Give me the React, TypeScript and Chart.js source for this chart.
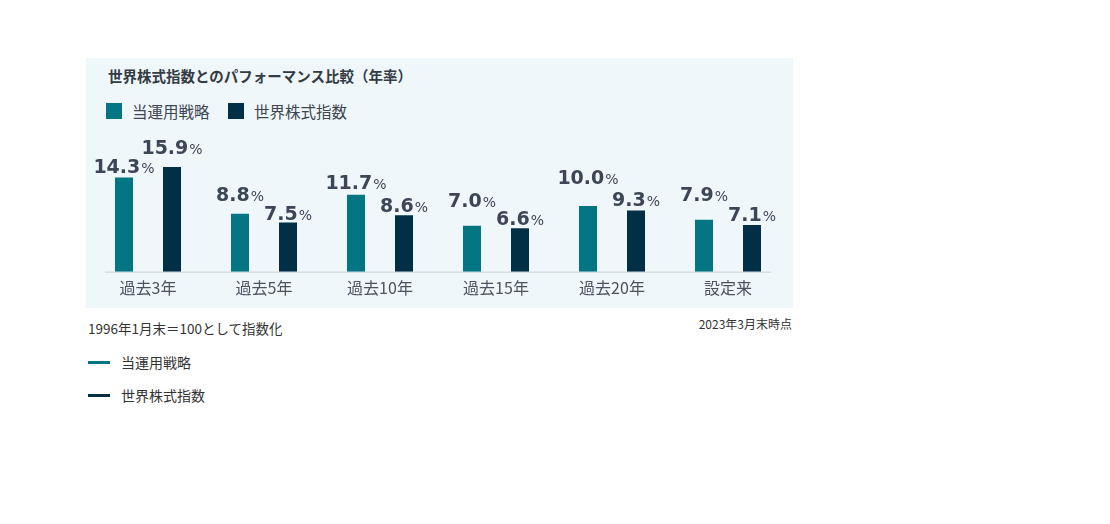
import React, { useEffect, useRef } from "react";
import { Chart, registerables } from "chart.js";

Chart.register(...registerables);

const categories = ["過去3年", "過去5年", "過去10年", "過去15年", "過去20年", "設定来"];
const strategyValues = [14.3, 8.8, 11.7, 7.0, 10.0, 7.9];
const indexValues = [15.9, 7.5, 8.6, 6.6, 9.3, 7.1];
const seriesNames = ["当運用戦略", "世界株式指数"];
const seriesColors = ["#037583", "#012f46"];

// per-label lift above the bar top (px), as placed in the original
const labelLift = [
  [5, 13, 6, 19, 22, 19],
  [13, 2, 3, 3, 5, 4],
];

const FONT = "'Noto Sans CJK JP', 'Noto Sans', sans-serif";
const NUMFONT = "'DejaVu Sans', sans-serif";

const labelPlugin = {
  id: "valueLabels",
  beforeDatasetsDraw(chart: any) {
    const { ctx, chartArea, scales } = chart;
    const y = scales.y.getPixelForValue(0);
    ctx.save();
    ctx.strokeStyle = "#d6dde3";
    ctx.lineWidth = 1.5;
    ctx.beginPath();
    ctx.moveTo(chartArea.left + 15, y + 0.5);
    ctx.lineTo(chartArea.right - 15, y + 0.5);
    ctx.stroke();
    ctx.restore();
  },
  afterDatasetsDraw(chart: any) {
    const { ctx } = chart;
    ctx.save();
    ctx.fillStyle = "#3b4656";
    ctx.textBaseline = "alphabetic";
    ctx.textAlign = "left";
    chart.data.datasets.forEach((ds: any, di: number) => {
      const meta = chart.getDatasetMeta(di);
      meta.data.forEach((bar: any, i: number) => {
        const num = (ds.data[i] as number).toFixed(1);
        ctx.font = `bold 19px ${NUMFONT}`;
        const w1 = ctx.measureText(num).width;
        ctx.font = `14px ${NUMFONT}`;
        const w2 = ctx.measureText("%").width;
        const x0 = bar.x - (w1 + 1 + w2) / 2;
        const yb = bar.y - labelLift[di][i];
        ctx.font = `bold 19px ${NUMFONT}`;
        ctx.fillText(num, x0, yb);
        ctx.font = `14px ${NUMFONT}`;
        ctx.fillText("%", x0 + w1 + 1, yb);
      });
    });
    ctx.restore();
  },
};

export default function App() {
  const ref = useRef<HTMLCanvasElement>(null);
  useEffect(() => {
    if (!ref.current) return;
    const chart = new Chart(ref.current, {
      type: "bar",
      data: {
        labels: categories,
        datasets: [
          {
            label: seriesNames[0],
            data: strategyValues,
            backgroundColor: seriesColors[0],
            categoryPercentage: 0.828,
            barPercentage: 0.375,
          },
          {
            label: seriesNames[1],
            data: indexValues,
            backgroundColor: seriesColors[1],
            categoryPercentage: 0.828,
            barPercentage: 0.375,
          },
        ],
      },
      options: {
        animation: false,
        responsive: false,
        devicePixelRatio: 1,
        layout: { padding: { top: 10, left: 0, right: 0, bottom: 0 } },
        plugins: { legend: { display: false }, tooltip: { enabled: false } },
        scales: {
          x: {
            grid: { display: false, drawTicks: false },
            border: { display: false },
            ticks: { font: { family: FONT, size: 16 }, color: "#4a5360", padding: 7 },
          },
          y: { display: false, min: 0, max: 20 },
        },
      },
      plugins: [labelPlugin],
    });
    return () => chart.destroy();
  }, []);

  const txt: React.CSSProperties = { position: "absolute", fontFamily: FONT, whiteSpace: "nowrap" };

  return (
    <div style={{ position: "absolute", left: 0, top: 0, width: 1110, height: 524, background: "#fff", fontFamily: FONT }}>
      <div style={{ position: "absolute", left: 86, top: 58, width: 707, height: 250, background: "#f0f7fb" }} />
      <div style={{ ...txt, left: 108, top: 66, fontSize: 14.5, fontWeight: 700, color: "#333b44", lineHeight: "20px" }}>
        世界株式指数とのパフォーマンス比較（年率）
      </div>
      <div style={{ position: "absolute", left: 106, top: 103, width: 16, height: 16, background: seriesColors[0] }} />
      <div style={{ ...txt, left: 132, top: 101, fontSize: 15.5, color: "#3c4650", lineHeight: "20px" }}>{seriesNames[0]}</div>
      <div style={{ position: "absolute", left: 228, top: 103, width: 16, height: 16, background: seriesColors[1] }} />
      <div style={{ ...txt, left: 254, top: 101, fontSize: 15.5, color: "#3c4650", lineHeight: "20px" }}>{seriesNames[1]}</div>
      <canvas ref={ref} width={696} height={175} style={{ position: "absolute", left: 90, top: 130, width: 696, height: 175 }} />
      <div style={{ ...txt, left: 88, top: 319, fontSize: 13.5, color: "#333", lineHeight: "18px" }}>1996年1月末＝100として指数化</div>
      <div style={{ ...txt, right: 1110 - 792, top: 316, fontSize: 12, color: "#333", lineHeight: "16px" }}>2023年3月末時点</div>
      <div style={{ position: "absolute", left: 88, top: 361, width: 22, height: 3, background: seriesColors[0] }} />
      <div style={{ ...txt, left: 121, top: 352, fontSize: 14, color: "#333", lineHeight: "20px" }}>{seriesNames[0]}</div>
      <div style={{ position: "absolute", left: 88, top: 394, width: 22, height: 3, background: seriesColors[1] }} />
      <div style={{ ...txt, left: 121, top: 385, fontSize: 14, color: "#333", lineHeight: "20px" }}>{seriesNames[1]}</div>
    </div>
  );
}
